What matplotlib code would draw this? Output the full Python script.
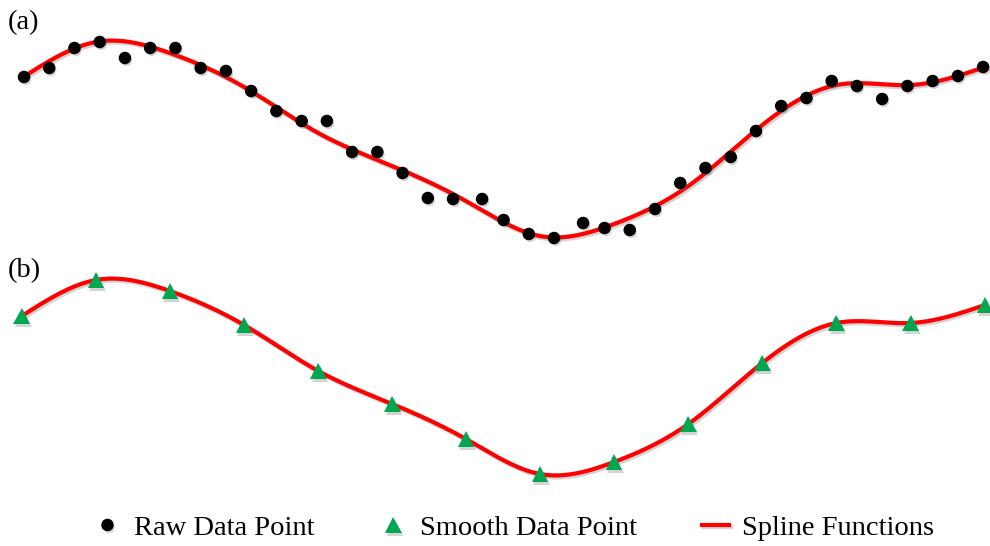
"""Raw data vs. smoothed data points with a cubic spline through the smoothed points."""
import matplotlib
matplotlib.use("Agg")
import matplotlib.pyplot as plt
import matplotlib.patheffects as pe
from matplotlib.lines import Line2D
import numpy as np

plt.rcParams["font.family"] = ["Liberation Serif", "DejaVu Serif"]

# sample positions (index units) and values
raw_t = [0, 1, 2, 3, 4, 5, 6, 7, 8, 9, 10, 11, 12, 13, 14, 15, 16, 17, 18.15,
         19, 20, 21, 22.15, 23, 24, 25, 26, 27, 28, 29, 30, 31, 32, 33, 34, 35,
         36, 37, 38]
raw_y = [1.73, 1.82, 2.02, 2.08, 1.92, 2.02, 2.02, 1.82, 1.79, 1.59, 1.39, 1.29,
         1.29, 0.98, 0.98, 0.77, 0.52, 0.51, 0.51, 0.30, 0.16, 0.12, 0.27, 0.22,
         0.20, 0.41, 0.67, 0.82, 0.93, 1.19, 1.44, 1.52, 1.69, 1.64, 1.51, 1.64,
         1.69, 1.74, 1.83]

smooth_t = [-0.09, 2.85, 5.78, 8.72, 11.66, 14.59, 17.51, 20.44, 23.38, 26.32,
            29.25, 32.19, 35.13, 38.07]
smooth_y = [1.72, 2.08, 1.97, 1.63, 1.17, 0.84, 0.49, 0.14, 0.26, 0.64, 1.25,
            1.65, 1.65, 1.83]

RED = "#ff0000"
GREEN = "#00a650"


def natural_spline(x, y, xs):
    """Natural cubic spline through (x, y), evaluated at xs."""
    x = np.asarray(x, float); y = np.asarray(y, float)
    n = len(x)
    h = np.diff(x)
    A = np.zeros((n, n)); rhs = np.zeros(n)
    A[0, 0] = A[-1, -1] = 1.0
    for i in range(1, n - 1):
        A[i, i - 1] = h[i - 1]
        A[i, i] = 2 * (h[i - 1] + h[i])
        A[i, i + 1] = h[i]
        rhs[i] = 3 * ((y[i + 1] - y[i]) / h[i] - (y[i] - y[i - 1]) / h[i - 1])
    c = np.linalg.solve(A, rhs)
    b = np.diff(y) / h - h * (2 * c[:-1] + c[1:]) / 3
    d = np.diff(c) / (3 * h)
    idx = np.clip(np.searchsorted(x, xs) - 1, 0, n - 2)
    dx = xs - x[idx]
    return y[idx] + b[idx] * dx + c[idx] * dx ** 2 + d[idx] * dx ** 3


t_fine = np.linspace(smooth_t[0], smooth_t[-1], 600)
spline = natural_spline(smooth_t, smooth_y, t_fine)

line_fx = [pe.SimpleLineShadow(offset=(1.2, -1.5), shadow_color="0.45", alpha=0.3),
           pe.Normal()]
mark_fx = [pe.SimplePatchShadow(offset=(1.2, -1.8), shadow_rgbFace="0.45", alpha=0.3),
           pe.Normal()]

fig = plt.figure(figsize=(9.9, 5.46), dpi=100)
W, H = 990, 546
ax_a = fig.add_axes([0, (H - 250) / H, 1, 250 / H])
ax_b = fig.add_axes([0, (H - 488) / H, 1, 250 / H])

for ax in (ax_a, ax_b):
    ax.set_xlim(-24 / 25.24, (W - 24) / 25.24)
    ax.set_ylim(0, 2.5)
    ax.axis("off")
    ax.patch.set_visible(False)

ax_a.plot(t_fine, spline, color=RED, lw=3, solid_capstyle="butt",
          path_effects=line_fx, clip_on=False, zorder=2)
ax_a.plot(raw_t, raw_y, "o", color="black", ms=8, path_effects=mark_fx,
          clip_on=False, zorder=3)

ax_b.plot(t_fine, spline, color=RED, lw=3, solid_capstyle="butt",
          path_effects=line_fx, clip_on=False, zorder=2)
ax_b.plot(smooth_t, smooth_y, "^", color=GREEN, ms=12, mec="none",
          path_effects=mark_fx, clip_on=False, zorder=3)

fig.text(8 / W, 1 - 23 / H, "(a)", fontsize=20.5, va="center", ha="left")
fig.text(8 / W, 1 - 271 / H, "(b)", fontsize=20.5, va="center", ha="left")

handles = [
    Line2D([], [], ls="none", marker="o", color="black", ms=8,
           path_effects=mark_fx, label="Raw Data Point"),
    Line2D([], [], ls="none", marker="^", color=GREEN, mec="none", ms=12,
           path_effects=mark_fx, label="Smooth Data Point"),
    Line2D([], [], color=RED, lw=3, path_effects=line_fx, label="Spline Functions"),
]
fig.legend(handles=handles, loc="center", bbox_to_anchor=(514 / W, 1 - 528 / H),
           ncol=3, frameon=False, fontsize=20.5, handlelength=0.95,
           handletextpad=0.45, columnspacing=2.3, numpoints=1)

fig.savefig("out.png", dpi=100)
plt.close(fig)
